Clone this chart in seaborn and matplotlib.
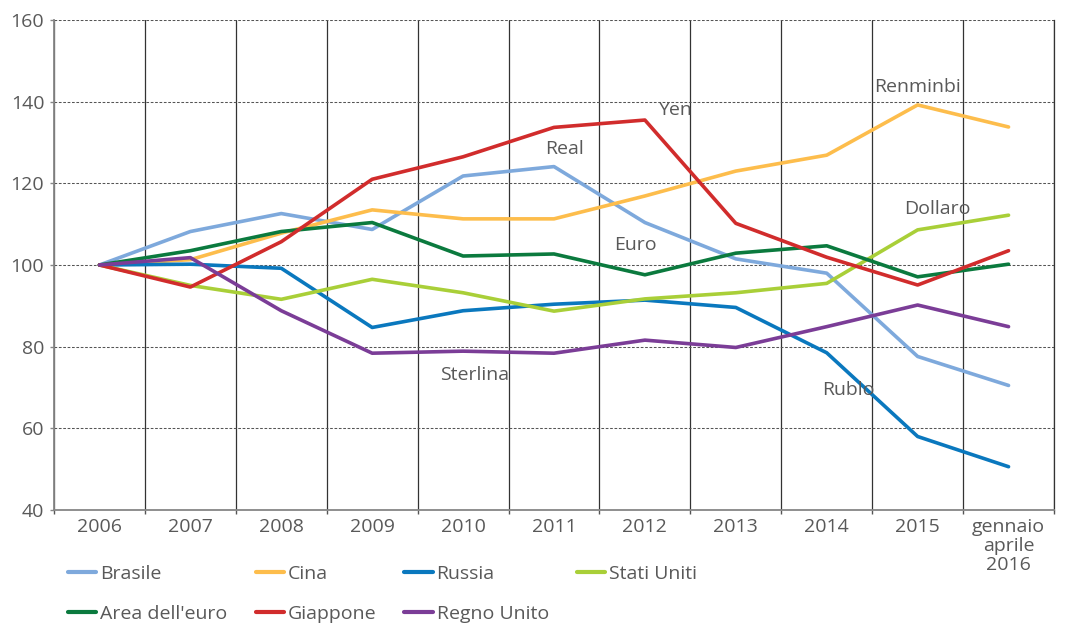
import numpy as np
import pandas as pd
import seaborn as sns
import matplotlib.pyplot as plt
from matplotlib.ticker import FixedLocator

# dati (indice 2006 = 100)
years = ['2006', '2007', '2008', '2009', '2010', '2011', '2012', '2013', '2014', '2015',
         'gennaio\naprile\n2016']
brasile = [100, 108.2, 112.6, 108.7, 121.8, 124.1, 110.4, 101.5, 98.0, 77.6, 70.5]
cina = [100, 101.3, 107.8, 113.5, 111.3, 111.3, 116.9, 123.0, 126.9, 139.2, 133.8]
russia = [100, 100.2, 99.2, 84.7, 88.8, 90.4, 91.4, 89.6, 78.5, 58.0, 50.6]
stati_uniti = [100, 95.0, 91.6, 96.5, 93.2, 88.7, 91.7, 93.2, 95.5, 108.6, 112.2]
area_euro = [100, 103.5, 108.2, 110.4, 102.2, 102.7, 97.6, 102.9, 104.7, 97.1, 100.2]
giappone = [100, 94.6, 105.7, 121.0, 126.5, 133.7, 135.5, 110.2, 101.9, 95.1, 103.5]
regno_unito = [100, 101.8, 88.8, 78.4, 78.9, 78.4, 81.6, 79.8, 84.9, 90.2, 84.9]

series = {
    'Brasile': brasile,
    'Cina': cina,
    'Russia': russia,
    'Stati Uniti': stati_uniti,
    "Area dell'euro": area_euro,
    'Giappone': giappone,
    'Regno Unito': regno_unito,
}
colors = {
    'Brasile': '#7EA9DC',
    'Cina': '#FDBD4C',
    'Russia': '#0A78BE',
    'Stati Uniti': '#A9CF38',
    "Area dell'euro": '#0B7A3E',
    'Giappone': '#D12C2C',
    'Regno Unito': '#7B3D97',
}

# etichette valute sul grafico
labels = ['Renminbi', 'Yen', 'Real', 'Euro', 'Sterlina', 'Dollaro', 'Rublo']
label_x = [9.0, 6.33, 5.12, 5.9, 4.13, 9.22, 8.24]
label_y = [143.6, 137.9, 128.4, 104.9, 73.1, 113.6, 69.4]

rows = []
for name, vals in series.items():
    for i, v in enumerate(vals):
        rows.append({'x': i, 'valore': v, 'serie': name})
df = pd.DataFrame(rows)

sns.set_style('white')
plt.rcParams['font.family'] = ['Open Sans', 'DejaVu Sans']
text_col = '#595959'

fig = plt.figure(figsize=(10.67, 6.26), dpi=100)
ax = fig.add_axes([54 / 1067, 1 - 510 / 626, 1000 / 1067, 490 / 626])

sns.lineplot(data=df, x='x', y='valore', hue='serie', hue_order=list(series.keys()),
             palette=colors, linewidth=2.6, ax=ax, legend=False)

ax.set_xlim(-0.5, len(years) - 0.5)
ax.set_ylim(40, 160)
ax.set_yticks(np.arange(40, 161, 20))
ax.set_xticks(range(len(years)))
ax.set_xticklabels(years, linespacing=1.05)
ax.xaxis.set_minor_locator(FixedLocator(np.arange(-0.5, len(years), 1.0)))
ax.set_xlabel('')
ax.set_ylabel('')

ax.grid(axis='y', which='major', color='#555555', linewidth=0.75, linestyle=(0, (2.6, 1.6)))
ax.grid(axis='x', which='minor', color='#333333', linewidth=0.9)
ax.grid(axis='x', which='major', visible=False)
ax.set_axisbelow(True)

ax.spines['top'].set_visible(False)
ax.spines['right'].set_color('#333333')
ax.spines['right'].set_linewidth(0.9)
for s in ['left', 'bottom']:
    ax.spines[s].set_color('#868686')
    ax.spines[s].set_linewidth(1.3)

ax.tick_params(axis='y', which='major', left=True, length=3, width=1, color='#868686',
               labelsize=14, labelcolor=text_col, pad=4)
ax.tick_params(axis='x', which='major', length=0, labelsize=14, labelcolor=text_col, pad=6)
ax.tick_params(axis='x', which='minor', bottom=True, length=3, width=1, color='#555555')

for t, lx, ly in zip(labels, label_x, label_y):
    ax.text(lx, ly, t, ha='center', va='center', fontsize=14, color=text_col)

# legenda: ordine per colonne per ottenere le righe dell'originale
order = ['Brasile', "Area dell'euro", 'Cina', 'Giappone', 'Russia', 'Regno Unito', 'Stati Uniti']
handles = [plt.Line2D([], [], color=colors[n], linewidth=3) for n in order]
fig.legend(handles, order, loc='upper left', bbox_to_anchor=(68 / 1067, 1 - 565 / 626),
           ncol=4, frameon=False, fontsize=14, labelcolor=text_col, handlelength=1.45,
           handletextpad=0.2, columnspacing=1.45, labelspacing=1.12, borderpad=0,
           borderaxespad=0)

fig.savefig('out.png', dpi=100)
